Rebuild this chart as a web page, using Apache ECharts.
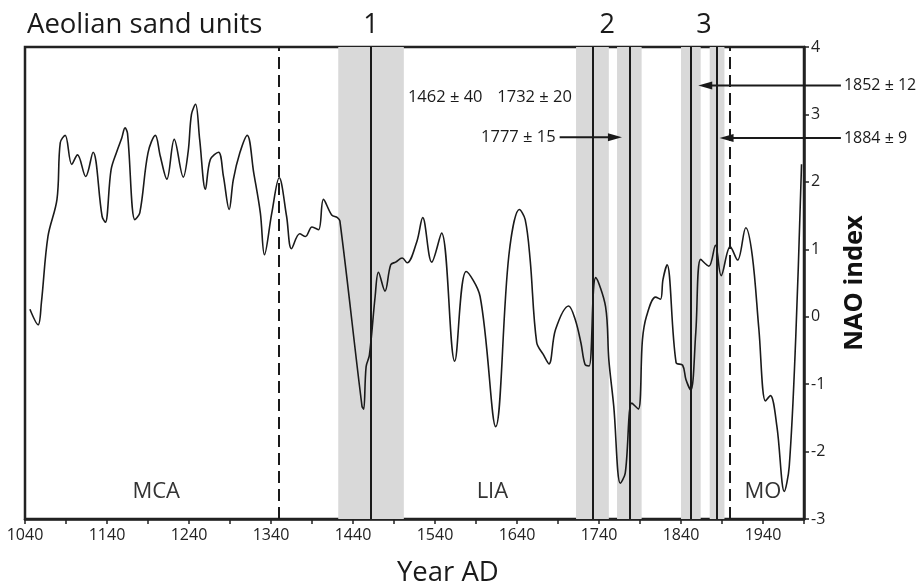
<!DOCTYPE html>
<html>
<head>
<meta charset="utf-8">
<script src="https://cdn.jsdelivr.net/npm/echarts@6/dist/echarts.min.js"></script>
<style>
html, body { margin: 0; padding: 0; background: #fff; }
#chart { width: 920px; height: 586px; }
</style>
</head>
<body>
<div id="chart"></div>
<script>
// NAO index reconstruction
var years = [1046, 1056, 1060, 1068, 1079, 1083, 1089, 1097, 1104, 1114, 1123, 1134, 1138, 1145, 1152, 1158, 1162, 1165,
  1174, 1180, 1190, 1199, 1205, 1213, 1222, 1233, 1239, 1243, 1248, 1253, 1260, 1266, 1276, 1282, 1289, 1294, 1302, 1311,
  1319, 1327, 1332, 1341, 1350, 1359, 1365, 1375, 1382, 1390, 1398, 1404, 1414, 1421, 1424, 1451, 1453, 1456, 1460, 1467,
  1471, 1479, 1486, 1492, 1500, 1506, 1518, 1525, 1536, 1548, 1564, 1578, 1595, 1614, 1630, 1643, 1650, 1656, 1664, 1672,
  1679, 1687, 1703, 1711, 1718, 1723, 1728, 1736, 1748, 1752, 1758, 1766, 1772, 1780, 1788, 1793, 1798, 1809, 1815, 1818,
  1823, 1834, 1842, 1846, 1852, 1858, 1864, 1874, 1882, 1889, 1900, 1909, 1919, 1927, 1935, 1943, 1949, 1957, 1966, 1972,
  1980, 1987];
var nao = [0.11, -0.12, 0.21, 1.19, 1.74, 2.58, 2.69, 2.26, 2.40, 2.08, 2.44, 1.49, 1.40, 2.18, 2.45, 2.65, 2.80, 2.72,
  1.44, 1.54, 2.43, 2.69, 2.38, 2.04, 2.63, 2.07, 2.45, 3.00, 3.15, 2.63, 1.89, 2.33, 2.44, 2.08, 1.59, 2.03, 2.43, 2.69,
  2.13, 1.54, 0.92, 1.54, 2.06, 1.49, 1.01, 1.23, 1.19, 1.33, 1.29, 1.74, 1.51, 1.47, 1.42, -1.33, -1.37, -0.74, -0.57, 0.30,
  0.66, 0.38, 0.77, 0.81, 0.87, 0.80, 1.12, 1.47, 0.81, 1.24, -0.66, 0.67, 0.30, -1.63, 0.90, 1.59, 1.44, 0.85, -0.38, -0.56,
  -0.70, -0.19, 0.16, -0.04, -0.39, -0.71, -0.73, 0.58, 0.15, -0.64, -1.33, -2.47, -2.32, -1.28, -1.37, -0.34, 0.01, 0.29, 0.26, 0.55,
  0.77, -0.68, -0.72, -0.93, -1.09, -0.24, 0.85, 0.75, 1.06, 0.61, 1.04, 0.84, 1.32, 0.90, -0.19, -1.25, -1.17, -1.63, -2.59, -2.22,
  -0.29, 2.26];

// dated aeolian sand layers: age and error
var unitYears = [1462, 1732, 1777, 1852, 1884];
var unitErrors = [40, 20, 15, 12, 9];
// unit number labels
var unitNames = ['1', '2', '3'];
var unitNameYears = [1462, 1750, 1868];
// period boundaries and names
var periodBounds = [1350, 1900];
var periodNames = ['MCA', 'LIA', 'MO'];
var periodNameYears = [1200, 1610, 1940];

var chart = echarts.init(document.getElementById('chart'));
var font = '"Open Sans", "Noto Sans", sans-serif';

var areas = unitYears.map(function (y, i) {
  return [{ xAxis: y - unitErrors[i] }, { xAxis: y + unitErrors[i] }];
});
var lines = unitYears.map(function (y) {
  return { xAxis: y, lineStyle: { type: 'solid', width: 2 } };
});
periodBounds.forEach(function (y) {
  lines.push({ xAxis: y, lineStyle: { type: [12, 6], width: 2 } });
});

var option = {
  animation: false,
  grid: {
    left: 25, right: 116, top: 47, bottom: 67,
    show: true, borderColor: '#222', borderWidth: 2.5, backgroundColor: 'transparent'
  },
  xAxis: {
    type: 'value', min: 1040, max: 1990, interval: 50,
    axisLine: { onZero: false, lineStyle: { color: '#222', width: 2.5 } },
    axisTick: { length: 5, lineStyle: { color: '#222', width: 1.5 } },
    axisLabel: {
      margin: 8, color: '#222', fontFamily: font, fontSize: 16,
      formatter: function (v) { return (v - 1040) % 100 === 0 && v < 1990 ? String(v) : ''; }
    },
    splitLine: { show: false }
  },
  yAxis: {
    type: 'value', position: 'right', min: -3, max: 4, interval: 1,
    name: 'NAO index', nameLocation: 'middle', nameRotate: 90, nameGap: 38,
    nameTextStyle: { color: '#111', fontFamily: font, fontSize: 25.5, fontWeight: 'bold' },
    axisLine: { show: true, onZero: false, lineStyle: { color: '#222', width: 2.5 } },
    axisTick: { show: true, length: 5, lineStyle: { color: '#222', width: 1.5 } },
    axisLabel: { margin: 7, color: '#222', fontFamily: font, fontSize: 16 },
    splitLine: { show: false }
  },
  series: [
    {
      name: 'units', type: 'line', data: [], z: 1,
      markArea: { silent: true, itemStyle: { color: '#d9d9d9' }, data: areas },
      markLine: {
        silent: true, symbol: 'none', label: { show: false },
        lineStyle: { color: '#1a1a1a' }, data: lines
      }
    },
    {
      name: 'NAO', type: 'line', z: 3, smooth: 0.35, showSymbol: false,
      lineStyle: { color: '#1a1a1a', width: 1.6 },
      data: years.map(function (y, i) { return [y, nao[i]]; })
    }
  ]
};
chart.setOption(option);

// annotations placed in data coordinates
function px(x, y) { return chart.convertToPixel({ gridIndex: 0 }, [x, y]); }

var g = [];
function text(x, y, s, size, align, fill) {
  g.push({
    type: 'text', x: x, y: y, z: 10,
    style: { text: s, fill: fill || '#1a1a1a', font: size + 'px ' + font, align: align || 'left', verticalAlign: 'middle' }
  });
}
function arrow(x1, x2, y) {
  var dir = x2 > x1 ? 1 : -1;
  g.push({ type: 'line', shape: { x1: x1, y1: y, x2: x2 - dir * 9, y2: y }, style: { stroke: '#1a1a1a', lineWidth: 2 }, z: 10 });
  g.push({ type: 'polygon', shape: { points: [[x2, y], [x2 - dir * 14, y - 4], [x2 - dir * 14, y + 4]] }, style: { fill: '#1a1a1a' }, z: 10 });
}

text(27, 25, 'Aeolian sand units', 27.5, 'left');
unitNames.forEach(function (n, i) {
  var p = px(unitNameYears[i], 4);
  text(p[0], 25, n, 27, 'center');
});
periodNames.forEach(function (n, i) {
  var p = px(periodNameYears[i], -2.6);
  text(p[0], p[1], n, 22, 'center', '#333');
});

function label(i) { return unitYears[i] + ' \u00b1 ' + unitErrors[i]; }
// 1462 and 1732 labels
var a = px(1507, 3.25);
text(a[0], a[1], label(0), 16.5, 'left');
a = px(1616, 3.25);
text(a[0], a[1], label(1), 16.5, 'left');
// 1777 arrow from the left
var s = px(1692, 2.66), t = px(1768, 2.66);
text(s[0] - 4, s[1], label(2), 16.5, 'right');
arrow(s[0], t[0], s[1]);
// 1852 and 1884 arrows from the right
s = px(2035, 3.43); t = px(1861, 3.43);
arrow(s[0], t[0], s[1]);
text(s[0] + 3, s[1], label(3), 16, 'left');
s = px(2035, 2.65); t = px(1887, 2.65);
arrow(s[0], t[0], s[1]);
text(s[0] + 3, s[1], label(4), 16, 'left');

text(397, 573, 'Year AD', 27.5, 'left');

chart.setOption({ graphic: g });
</script>
</body>
</html>
